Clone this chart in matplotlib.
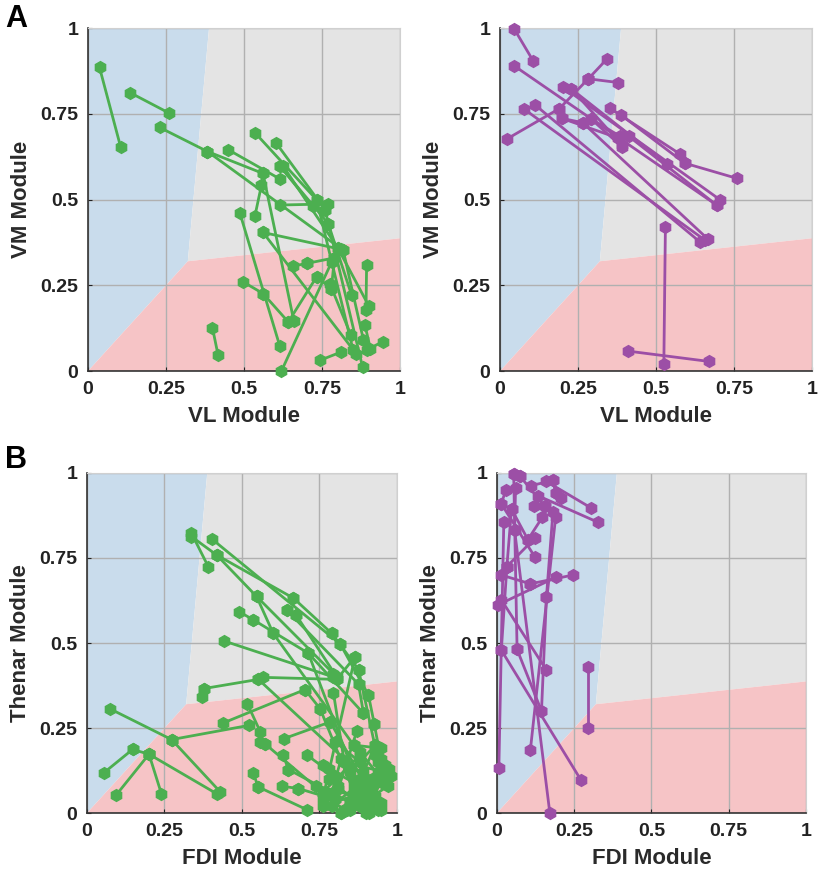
import numpy as np
import matplotlib.pyplot as plt
from matplotlib.patches import Polygon

plt.rcParams['font.family'] = ['Liberation Sans', 'DejaVu Sans']
plt.rcParams['font.weight'] = 'bold'

# background regions (data coords)
blue_region = [(0, 0), (0.32, 0.32), (0.388, 1), (0, 1)]
grey_region = [(0.32, 0.32), (0.388, 1), (1, 1), (1, 0.387)]
pink_region = [(0, 0), (0.32, 0.32), (1, 0.387), (1, 0)]

ticks = [0, 0.25, 0.5, 0.75, 1]
tick_labels = ['0', '0.25', '0.5', '0.75', '1']

# panel A, left (green): segments start -> end
a1_x0 = [0.037, 0.134, 0.230, 0.383, 0.383, 0.450, 0.535, 0.602, 0.615, 0.625,
         0.615, 0.615, 0.561, 0.535, 0.487, 0.497, 0.561, 0.561, 0.642, 0.658,
         0.703, 0.399, 0.620, 0.743, 0.893, 0.944, 0.733, 0.760, 0.770, 0.800,
         0.818, 0.775, 0.733, 0.561, 0.888, 0.780]
a1_y0 = [0.885, 0.812, 0.710, 0.640, 0.640, 0.645, 0.695, 0.666, 0.598, 0.598,
         0.598, 0.484, 0.404, 0.452, 0.460, 0.260, 0.226, 0.576, 0.143, 0.306,
         0.314, 0.126, 0.000, 0.031, 0.309, 0.085, 0.499, 0.470, 0.430, 0.360,
         0.352, 0.255, 0.275, 0.404, 0.133, 0.240]
a1_x1 = [0.105, 0.260, 0.383, 0.561, 0.818, 0.615, 0.733, 0.760, 0.770, 0.800,
         0.720, 0.770, 0.810, 0.556, 0.615, 0.561, 0.642, 0.660, 0.733, 0.703,
         0.790, 0.417, 0.781, 0.810, 0.891, 0.893, 0.850, 0.880, 0.845, 0.900,
         0.883, 0.843, 0.780, 0.860, 0.905, 0.790]
a1_y1 = [0.652, 0.752, 0.640, 0.576, 0.352, 0.560, 0.499, 0.470, 0.430, 0.360,
         0.480, 0.487, 0.355, 0.542, 0.072, 0.226, 0.143, 0.145, 0.275, 0.314,
         0.330, 0.046, 0.318, 0.055, 0.177, 0.062, 0.060, 0.012, 0.221, 0.190,
         0.090, 0.104, 0.240, 0.050, 0.065, 0.330]

# panel A, right (purple)
a2_x0 = [0.045, 0.045, 0.021, 0.190, 0.283, 0.283, 0.078, 0.112, 0.203, 0.229,
         0.197, 0.265, 0.293, 0.352, 0.387, 0.592, 0.413, 0.197, 0.293, 0.530,
         0.411, 0.229]
a2_y0 = [0.998, 0.890, 0.676, 0.765, 0.852, 0.852, 0.763, 0.776, 0.827, 0.822,
         0.737, 0.724, 0.734, 0.766, 0.747, 0.606, 0.684, 0.737, 0.734, 0.419,
         0.058, 0.822]
a2_x1 = [0.107, 0.694, 0.190, 0.283, 0.342, 0.379, 0.656, 0.640, 0.704, 0.534,
         0.265, 0.667, 0.384, 0.576, 0.592, 0.758, 0.694, 0.379, 0.390, 0.525,
         0.669, 0.390]
a2_y1 = [0.903, 0.484, 0.765, 0.852, 0.909, 0.841, 0.382, 0.377, 0.500, 0.604,
         0.724, 0.384, 0.685, 0.633, 0.606, 0.562, 0.484, 0.679, 0.654, 0.021,
         0.028, 0.660]

# panel B, left (green)
b1_x0 = [0.337, 0.337, 0.418, 0.547, 0.404, 0.418, 0.666, 0.547, 0.601, 0.491,
         0.537, 0.644, 0.674, 0.644, 0.442, 0.714, 0.569, 0.377, 0.370, 0.806,
         0.790, 0.817, 0.908, 0.876, 0.073, 0.273, 0.273, 0.054, 0.147, 0.200,
         0.200, 0.200, 0.517, 0.440, 0.559, 0.575, 0.636, 0.536, 0.552, 0.633,
         0.650, 0.628, 0.682, 0.703, 0.752, 0.785, 0.795, 0.553, 0.714, 0.865,
         0.876, 0.927, 0.860, 0.830, 0.900, 0.760, 0.880, 0.850, 0.800, 0.710,
         0.740, 0.820, 0.900, 0.780, 0.760, 0.930,
         0.770, 0.790, 0.810, 0.840, 0.870, 0.890, 0.910, 0.930, 0.950, 0.960,
         0.780, 0.820, 0.850, 0.880, 0.900, 0.920, 0.760, 0.800, 0.860, 0.940]
b1_y0 = [0.823, 0.813, 0.759, 0.637, 0.805, 0.759, 0.632, 0.637, 0.528, 0.592,
         0.568, 0.597, 0.583, 0.597, 0.506, 0.470, 0.399, 0.366, 0.342, 0.393,
         0.528, 0.497, 0.347, 0.379, 0.307, 0.216, 0.216, 0.118, 0.187, 0.173,
         0.173, 0.173, 0.322, 0.265, 0.209, 0.203, 0.219, 0.119, 0.077, 0.170,
         0.128, 0.079, 0.072, 0.363, 0.307, 0.268, 0.354, 0.393, 0.470, 0.460,
         0.422, 0.261, 0.200, 0.150, 0.100, 0.060, 0.020, 0.030, 0.040, 0.170,
         0.080, 0.000, 0.000, 0.130, 0.020, 0.170,
         0.050, 0.020, 0.070, 0.010, 0.040, 0.120, 0.060, 0.020, 0.090, 0.140,
         0.100, 0.160, 0.120, 0.180, 0.030, 0.100, 0.140, 0.210, 0.070, 0.010]
b1_x1 = [0.391, 0.418, 0.547, 0.795, 0.817, 0.666, 0.790, 0.601, 0.860, 0.537,
         0.714, 0.674, 0.806, 0.876, 0.795, 0.892, 0.806, 0.553, 0.377, 0.865,
         0.876, 0.908, 0.927, 0.892, 0.273, 0.524, 0.430, 0.147, 0.200, 0.095,
         0.240, 0.418, 0.559, 0.703, 0.575, 0.760, 0.785, 0.552, 0.709, 0.650,
         0.850, 0.682, 0.800, 0.752, 0.880, 0.900, 0.830, 0.900, 0.910, 0.760,
         0.940, 0.960, 0.950, 0.960, 0.975, 0.880, 0.970, 0.930, 0.870, 0.800,
         0.950, 0.930, 0.950, 0.860, 0.890, 0.980,
         0.830, 0.870, 0.900, 0.910, 0.950, 0.920, 0.960, 0.880, 0.900, 0.920,
         0.860, 0.790, 0.930, 0.960, 0.940, 0.850, 0.810, 0.880, 0.820, 0.910]
b1_y1 = [0.725, 0.759, 0.637, 0.410, 0.497, 0.632, 0.528, 0.528, 0.200, 0.568,
         0.470, 0.583, 0.400, 0.379, 0.400, 0.293, 0.393, 0.393, 0.366, 0.460,
         0.422, 0.347, 0.261, 0.293, 0.216, 0.258, 0.062, 0.187, 0.173, 0.054,
         0.057, 0.057, 0.239, 0.363, 0.203, 0.060, 0.268, 0.077, 0.010, 0.128,
         0.030, 0.072, 0.040, 0.307, 0.020, 0.080, 0.150, 0.100, 0.000, 0.040,
         0.150, 0.100, 0.190, 0.120, 0.130, 0.170, 0.080, 0.200, 0.240, 0.110,
         0.030, 0.050, 0.160, 0.090, 0.060, 0.110,
         0.010, 0.080, 0.030, 0.060, 0.010, 0.050, 0.110, 0.100, 0.020, 0.070,
         0.040, 0.060, 0.200, 0.090, 0.120, 0.010, 0.080, 0.150, 0.000, 0.060]

# panel B, right (purple)
b2_x0 = [0.054, 0.073, 0.054, 0.028, 0.014, 0.060, 0.057, 0.111, 0.160, 0.181,
         0.190, 0.133, 0.119, 0.147, 0.181, 0.190, 0.047, 0.022, 0.122, 0.014,
         0.108, 0.003, 0.014, 0.014, 0.295, 0.160, 0.065, 0.032, 0.100]
b2_y0 = [0.998, 0.992, 0.998, 0.949, 0.909, 0.956, 0.831, 0.963, 0.975, 0.978,
         0.941, 0.933, 0.904, 0.870, 0.884, 0.872, 0.894, 0.855, 0.808, 0.700,
         0.674, 0.612, 0.627, 0.479, 0.430, 0.635, 0.481, 0.725, 0.804]
b2_x1 = [0.073, 0.155, 0.065, 0.014, 0.122, 0.057, 0.171, 0.181, 0.305, 0.190,
         0.207, 0.327, 0.155, 0.100, 0.160, 0.108, 0.032, 0.006, 0.032, 0.108,
         0.246, 0.190, 0.160, 0.271, 0.295, 0.144, 0.144, 0.014, 0.047]
b2_y1 = [0.992, 0.902, 0.481, 0.909, 0.754, 0.831, 0.000, 0.978, 0.897, 0.941,
         0.926, 0.855, 0.902, 0.804, 0.635, 0.185, 0.725, 0.131, 0.725, 0.674,
         0.700, 0.693, 0.420, 0.098, 0.251, 0.300, 0.300, 0.479, 0.894]

green = '#4caf50'
purple = '#9c4fa6'


def draw_panel(ax, x0, y0, x1, y1, color, xlabel, ylabel):
    ax.add_patch(Polygon(blue_region, closed=True, fc='#c9dcec', ec='none', zorder=0.2))
    ax.add_patch(Polygon(grey_region, closed=True, fc='#e4e4e4', ec='none', zorder=0.2))
    ax.add_patch(Polygon(pink_region, closed=True, fc='#f6c4c6', ec='none', zorder=0.2))
    for i in range(len(x0)):
        ax.plot([x0[i], x1[i]], [y0[i], y1[i]], '-h', color=color, lw=2.0,
                ms=8.5, mec=color, clip_on=False, zorder=3)
    ax.set_xlim(0, 1)
    ax.set_ylim(0, 1)
    ax.set_xticks(ticks)
    ax.set_yticks(ticks)
    ax.set_xticklabels(tick_labels)
    ax.set_yticklabels(tick_labels)
    ax.set_axisbelow(True)
    ax.grid(True, color='#b0b0b0', lw=1.0)
    ax.tick_params(direction='in', length=3, labelsize=14, pad=7, colors='#222222')
    for s in ['top', 'right']:
        ax.spines[s].set_color('#d0d0d0')
    for s in ['left', 'bottom']:
        ax.spines[s].set_color('#333333')
        ax.spines[s].set_linewidth(1.2)
    ax.set_xlabel(xlabel, fontsize=16, fontweight='bold', color='#2a2a2a', labelpad=6)
    ax.set_ylabel(ylabel, fontsize=16, fontweight='bold', color='#2a2a2a', labelpad=6)


fig = plt.figure(figsize=(8.2, 8.73), dpi=100)
ax1 = fig.add_axes([0.1073, 0.575, 0.3805, 0.3929])
ax2 = fig.add_axes([0.6098, 0.575, 0.3805, 0.3929])
ax3 = fig.add_axes([0.1061, 0.0687, 0.378, 0.3895])
ax4 = fig.add_axes([0.6061, 0.0687, 0.3768, 0.3895])

draw_panel(ax1, a1_x0, a1_y0, a1_x1, a1_y1, green, 'VL Module', 'VM Module')
draw_panel(ax2, a2_x0, a2_y0, a2_x1, a2_y1, purple, 'VL Module', 'VM Module')
draw_panel(ax3, b1_x0, b1_y0, b1_x1, b1_y1, green, 'FDI Module', 'Thenar Module')
draw_panel(ax4, b2_x0, b2_y0, b2_x1, b2_y1, purple, 'FDI Module', 'Thenar Module')

fig.text(0.006, 0.995, 'A', fontsize=22, fontweight='bold', va='top', ha='left')
fig.text(0.006, 0.49, 'B', fontsize=22, fontweight='bold', va='top', ha='left')

fig.savefig('out.png', dpi=100)
